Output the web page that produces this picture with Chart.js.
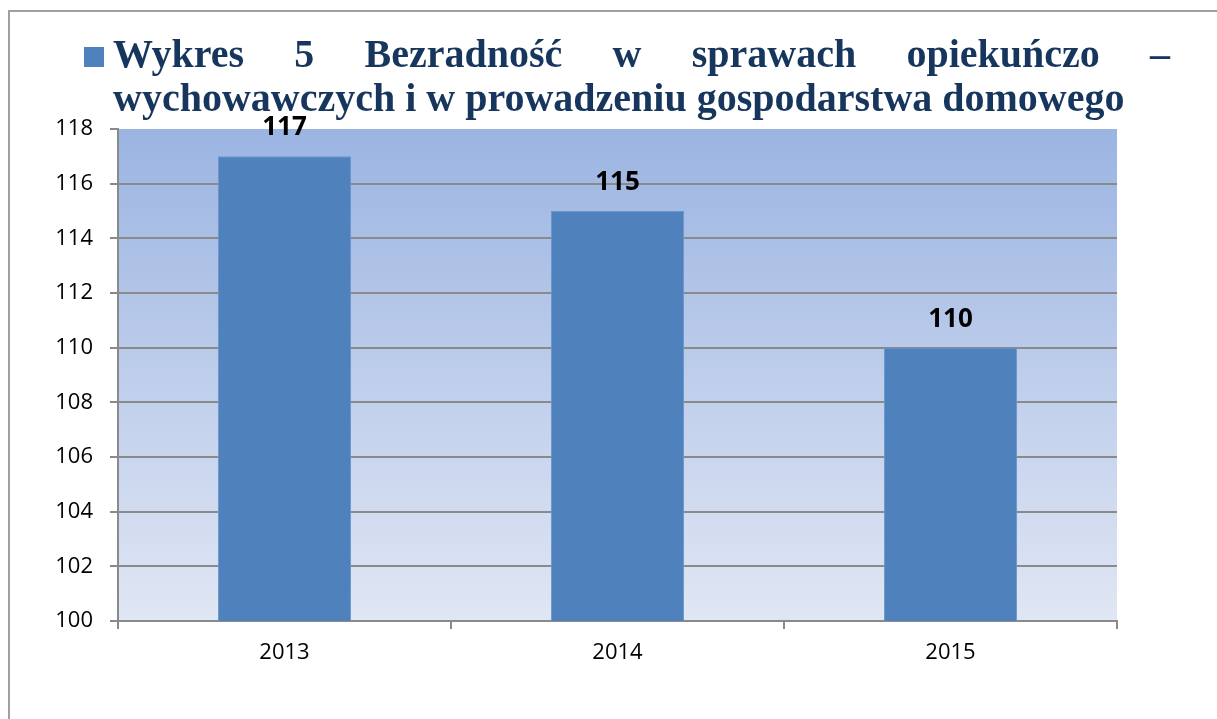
<!DOCTYPE html>
<html>
<head>
<meta charset="utf-8">
<script src="https://cdn.jsdelivr.net/npm/chart.js@4"></script>
<style>
  body { margin: 0; background: #fff; }
  #wrap { position: relative; width: 1217px; height: 719px; overflow: hidden; }
  #frame { position: absolute; left: 8px; top: 10px; width: 1300px; height: 800px; border: 2px solid #a0a0a0; }
  #swatch { position: absolute; left: 84px; top: 47px; width: 20px; height: 20px; background: #4f81bd; }
  .tline { position: absolute; left: 113px; font-family: "Liberation Serif", serif; font-weight: bold;
           font-size: 40px; color: #17365d; white-space: nowrap; line-height: 1; }
  #t1 { top: 34px; width: 1057px; text-align: justify; text-align-last: justify; white-space: normal; }
  #t2 { top: 78px; }
  #chart { position: absolute; left: 0; top: 0; }
</style>
</head>
<body>
<div id="wrap">
  <div id="frame"></div>
  <canvas id="chart" width="1217" height="719"></canvas>
  <div id="swatch"></div>
  <div class="tline" id="t1">Wykres 5 Bezradność w sprawach opiekuńczo –</div>
  <div class="tline" id="t2">wychowawczych i w prowadzeniu gospodarstwa domowego</div>
</div>
<script>
document.addEventListener("DOMContentLoaded", function () {

    var labels = ['2013', '2014', '2015'];
    var values = [117, 115, 110];
    var yMin = 100, yMax = 118, yStep = 2;

    var gray = '#8a8a8a';

    // plot area gradient background
    var plotBg = {
        id: 'plotBg',
        beforeDraw: function (chart) {
            var a = chart.chartArea, c = chart.ctx;
            var g = c.createLinearGradient(0, a.top, 0, a.bottom);
            g.addColorStop(0, '#9bb4e2');
            g.addColorStop(1, '#e0e7f4');
            c.save();
            c.fillStyle = g;
            c.fillRect(a.left, a.top, a.right - a.left, a.bottom - a.top);
            c.restore();
        }
    };

    // value labels above bars
    var valueLabels = {
        id: 'valueLabels',
        afterDatasetsDraw: function (chart) {
            var c = chart.ctx;
            var meta = chart.getDatasetMeta(0);
            c.save();
            c.font = 'bold 26px "Open Sans", sans-serif';
            c.fillStyle = '#000';
            c.textAlign = 'center';
            c.textBaseline = 'alphabetic';
            meta.data.forEach(function (bar, i) {
                c.fillText(values[i], bar.x, bar.y - 21);
            });
            c.restore();
        }
    };

    var ctx = document.getElementById('chart').getContext('2d');
    new Chart(ctx, {
        type: 'bar',
        data: {
            labels: labels,
            datasets: [{
                data: values,
                backgroundColor: '#4f81bd',
                borderColor: '#6a95cc',
                borderWidth: 1,
                barPercentage: 0.4,
                categoryPercentage: 1
            }]
        },
        options: {
            responsive: false,
            animation: false,
            devicePixelRatio: 1,
            layout: { padding: { top: 129, right: 100, left: 0, bottom: 0 } },
            plugins: {
                legend: { display: false },
                title: { display: false },
                tooltip: { enabled: false }
            },
            scales: {
                x: {
                    afterFit: function (s) { s.height = 98; },
                    grid: { drawOnChartArea: false, color: gray, tickColor: gray, lineWidth: 2, tickLength: 8 },
                    border: { color: gray, width: 2 },
                    ticks: { color: '#000', font: { family: 'Open Sans', size: 22 }, padding: 11 }
                },
                y: {
                    min: yMin,
                    max: yMax,
                    afterFit: function (s) { s.width = 118; },
                    grid: {
                        color: function (c) { return c.tick && c.tick.value === yMax ? 'rgba(0,0,0,0)' : gray; },
                        tickColor: gray,
                        lineWidth: 2,
                        tickLength: 8
                    },
                    border: { color: gray, width: 2 },
                    ticks: { stepSize: yStep, color: '#000', font: { family: 'Open Sans', size: 22 }, padding: 17 }
                }
            }
        },
        plugins: [plotBg, valueLabels]
    });
});
</script>
</body>
</html>
